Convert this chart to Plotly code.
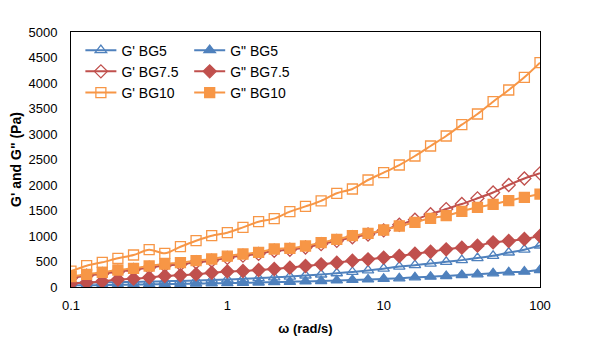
import numpy as np
import plotly.graph_objects as go

omega = [round(10 ** (-1 + i / 10), 4) for i in range(31)]

g1_bg5 = [80, 85, 90, 95, 100, 107, 113, 120, 128, 138, 148, 160, 175, 190, 205, 225, 245,
          270, 295, 325, 360, 400, 428, 460, 493, 527, 568, 611, 676, 732, 814]
g2_bg5 = [32, 35, 38, 42, 46, 50, 55, 60, 65, 70, 76, 82, 88, 95, 102, 110, 118, 128, 138,
          148, 158, 170, 190, 202, 216, 235, 249, 268, 288, 301, 333]
g1_bg75 = [175, 220, 258, 300, 335, 380, 420, 445, 485, 515, 570, 615, 650, 710, 730, 775,
           840, 905, 975, 1030, 1110, 1220, 1320, 1428, 1528, 1627, 1739, 1853, 2000, 2128, 2229]
g2_bg75 = [70, 88, 110, 145, 163, 185, 215, 230, 250, 280, 305, 314, 333, 353, 379, 412, 445,
           477, 516, 543, 575, 608, 653, 692, 739, 771, 810, 876, 902, 941, 1000]
g1_bg10 = [310, 418, 484, 562, 627, 731, 660, 790, 908, 1006, 1065, 1170, 1281, 1340, 1477,
           1580, 1690, 1837, 1922, 2098, 2242, 2392, 2569, 2765, 2961, 3183, 3392, 3634, 3863,
           4111, 4399]
g2_bg10 = [202, 249, 288, 333, 366, 412, 451, 477, 516, 549, 605, 647, 680, 745, 758, 804, 869,
           935, 1006, 1053, 1118, 1196, 1268, 1346, 1399, 1484, 1562, 1621, 1693, 1758, 1823]

names = ["G' BG5", 'G" BG5', "G' BG7.5", 'G" BG7.5', "G' BG10", 'G" BG10']
series = [g1_bg5, g2_bg5, g1_bg75, g2_bg75, g1_bg10, g2_bg10]
colors = ["#4F81BD", "#4F81BD", "#C0504D", "#C0504D", "#F79646", "#F79646"]
symbols = ["triangle-up-open", "triangle-up", "diamond-open", "diamond", "square-open", "square"]
sizes = [10, 10, 10, 10, 10, 10]
legends = ["legend", "legend2", "legend", "legend2", "legend", "legend2"]

fig = go.Figure()
for n, s, c, sym, sz, lg in zip(names, series, colors, symbols, sizes, legends):
    fig.add_trace(go.Scatter(
        x=omega, y=s, name=n, mode="lines+markers",
        line=dict(color=c, width=2, shape="spline", smoothing=0.8),
        marker=dict(symbol=sym, size=sz, color=c, line=dict(color=c, width=1.3)),
        legend=lg,
    ))

font = "Liberation Sans, Arial, sans-serif"
fig.update_layout(
    width=600, height=346,
    margin=dict(l=71, r=60, t=32, b=59),
    paper_bgcolor="white", plot_bgcolor="white",
    font=dict(family=font, size=13, color="#000000"),
    legend=dict(x=0.02, y=0.99, xanchor="left", yanchor="top", bgcolor="rgba(0,0,0,0)",
                font=dict(size=14), tracegroupgap=0, itemwidth=31),
    legend2=dict(x=0.252, y=0.99, xanchor="left", yanchor="top", bgcolor="rgba(0,0,0,0)",
                 font=dict(size=14), tracegroupgap=0, itemwidth=31),
    xaxis=dict(type="log", range=[-1, 2], tickvals=[0.1, 1, 10, 100],
               ticktext=["0.1", "1", "10", "100"], showgrid=False, zeroline=False,
               showline=True, linecolor="black", linewidth=1, mirror=True, ticks="",
               ticklabelstandoff=6,
               title=dict(text="<b>ω (rad/s)</b>", font=dict(size=13), standoff=12)),
    yaxis=dict(range=[0, 5000], dtick=500, showgrid=False, zeroline=False,
               showline=True, linecolor="black", linewidth=1, mirror=True, ticks="",
               ticklabelstandoff=10,
               title=dict(text="<b>G' and G\" (Pa)</b>", font=dict(size=14), standoff=3)),
)

fig.write_html("out.html")
